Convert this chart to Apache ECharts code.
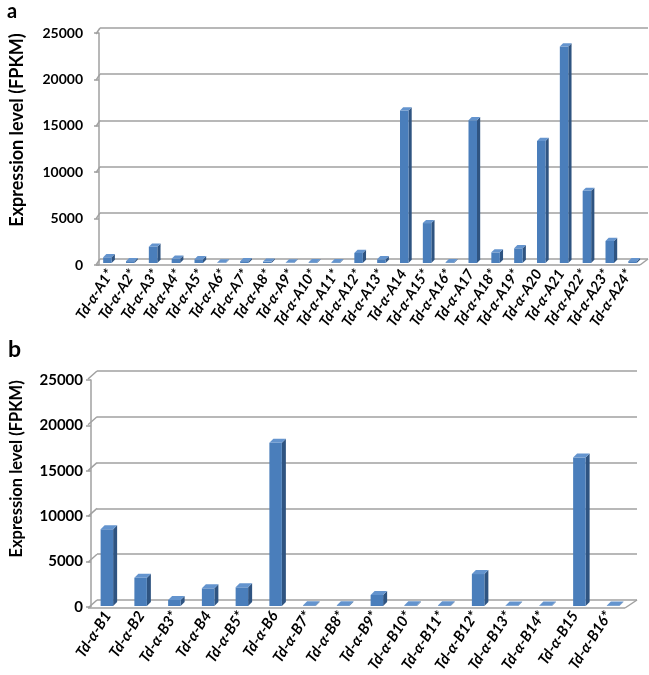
<!DOCTYPE html>
<html>
<head>
<meta charset="utf-8">
<script src="https://cdn.jsdelivr.net/npm/echarts@6/dist/echarts.min.js"></script>
<style>
html,body{margin:0;padding:0;background:#fff;}
#chart{width:649px;height:675px;}
</style>
</head>
<body>
<div id="chart"></div>
<script>
// ---- data ----
const catsA = ['Td-α-A1*','Td-α-A2*','Td-α-A3*','Td-α-A4*','Td-α-A5*','Td-α-A6*','Td-α-A7*','Td-α-A8*',
  'Td-α-A9*','Td-α-A10*','Td-α-A11*','Td-α-A12*','Td-α-A13*','Td-α-A14','Td-α-A15*','Td-α-A16*',
  'Td-α-A17','Td-α-A18*','Td-α-A19*','Td-α-A20','Td-α-A21','Td-α-A22*','Td-α-A23*','Td-α-A24*'];
const valsA = [620, 200, 1760, 460, 400, 50, 200, 150, 50, 80, 80, 1080, 400, 16500, 4320, 80,
  15450, 1150, 1590, 13200, 23440, 7810, 2380, 200];
const catsB = ['Td-α-B1','Td-α-B2','Td-α-B3*','Td-α-B4','Td-α-B5*','Td-α-B6','Td-α-B7*','Td-α-B8*',
  'Td-α-B9*','Td-α-B10*','Td-α-B11*','Td-α-B12*','Td-α-B13*','Td-α-B14*','Td-α-B15','Td-α-B16*'];
const valsB = [8375, 3090, 655, 1930, 2040, 17830, 80, 80, 1200, 80, 80, 3490, 50, 50, 16200, 60];
const yTicks = [0, 5000, 10000, 15000, 20000, 25000];
const yName = 'Expression level (FPKM)';

// ---- rendering ----
const GRID_COLOR = '#A0A0A0';
const FRONT = '#4A7EBB', SIDE = '#2F5481', TOPC = '#6494CE';

function barRenderer(o) {
  return function (params, api) {
    const i = api.value(0), v = api.value(1);
    const t = api.coord([i, v]), b = api.coord([i, 0]);
    const cx = t[0] + o.dx, yT = t[1] + o.dy, yB = b[1] + o.dy;
    const x0 = cx - o.w / 2, x1 = cx + o.w / 2, d = o.d;
    return {
      type: 'group',
      children: [
        {type: 'polygon', shape: {points: [[x1, yT], [x1 + d, yT - d], [x1 + d, yB - d], [x1, yB]]}, style: {fill: SIDE}},
        {type: 'rect', shape: {x: x0, y: yT, width: o.w, height: Math.max(yB - yT, 0)}, style: {fill: FRONT}},
        {type: 'polygon', shape: {points: [[x0, yT], [x1, yT], [x1 + d, yT - d], [x0 + d, yT - d]]}, style: {fill: TOPC}}
      ]
    };
  };
}

function frameRenderer(o) {
  return function (params, api) {
    const v = api.value(1);
    const cs = params.coordSys;
    const y = api.coord([0, v])[1];
    const st = {stroke: GRID_COLOR, lineWidth: 1.5};
    const ch = [{type: 'line', shape: {x1: cs.x, y1: y, x2: cs.x + o.lx, y2: y + o.fy}, style: st}];
    if (v === 0) {
      const rx = cs.x + cs.width;
      ch.push({type: 'line', shape: {x1: cs.x + o.lx, y1: y + o.fy, x2: rx + o.rx, y2: y + o.fy}, style: st});
      ch.push({type: 'line', shape: {x1: rx, y1: y, x2: rx + o.rx, y2: y + o.fy}, style: st});
    }
    return {type: 'group', children: ch};
  };
}

const labelFont = 'Lato, "Open Sans", sans-serif';

function backY(gi) {
  return {gridIndex: gi, type: 'value', min: 0, max: 25000, interval: 5000,
    axisLabel: {show: false}, axisLine: {show: false}, axisTick: {show: false},
    splitLine: {show: true, lineStyle: {color: GRID_COLOR, width: 1.5}}};
}
function frontY(gi, fs, margin, nameGap, nameFs, namePad) {
  return {gridIndex: gi, type: 'value', min: 0, max: 25000, interval: 5000,
    name: yName, nameLocation: 'middle', nameRotate: 90, nameGap: nameGap,
    nameTextStyle: {fontFamily: labelFont, fontWeight: 'bold', fontSize: nameFs, color: '#000', padding: namePad},
    axisLabel: {fontFamily: labelFont, fontWeight: 'bold', fontSize: fs, color: '#000', margin: margin,
      formatter: v => String(v)},
    axisLine: {show: true, lineStyle: {color: GRID_COLOR, width: 1.5}},
    axisTick: {show: true, length: 5, lineStyle: {color: GRID_COLOR, width: 1.5}},
    splitLine: {show: false}};
}
function backX(gi, cats) {
  return {gridIndex: gi, type: 'category', data: cats, show: false};
}
function frontX(gi, cats, fs) {
  return {gridIndex: gi, type: 'category', data: cats,
    axisLine: {show: false}, axisTick: {show: false},
    axisLabel: {interval: 0, rotate: 57, margin: 6, fontFamily: labelFont, fontWeight: 'bold',
      fontStyle: 'italic', fontSize: fs, color: '#000'}};
}

const chart = echarts.init(document.getElementById('chart'), null, {renderer: 'canvas'});
chart.setOption({
  backgroundColor: '#fff',
  animation: false,
  title: [
    {text: 'a', left: 2, top: -3, textStyle: {fontFamily: labelFont, fontWeight: 'bold', fontSize: 20, color: '#000'}},
    {text: 'b', left: 3, top: 333, textStyle: {fontFamily: labelFont, fontWeight: 'bold', fontSize: 23, color: '#000'}}
  ],
  grid: [
    {left: 100, top: 28, width: 548, height: 231},
    {left: 96, top: 33, width: 544, height: 232},
    {left: 97, top: 371, width: 540, height: 229},
    {left: 88, top: 380, width: 537, height: 227}
  ],
  xAxis: [backX(0, catsA), frontX(1, catsA, 14.5), backX(2, catsB), frontX(3, catsB, 15)],
  yAxis: [backY(0), frontY(1, 14, 16, 73, 18, [0, 0, 0, 38]), backY(2), frontY(3, 15, 8, 66, 16.5, [0, 0, 0, 49])],
  series: [
    {type: 'custom', xAxisIndex: 0, yAxisIndex: 0, renderItem: frameRenderer({lx: -4, fy: 6, rx: -8}),
      data: yTicks.map(v => [0, v]), silent: true, z: 1},
    {type: 'custom', xAxisIndex: 0, yAxisIndex: 0, renderItem: barRenderer({dx: -4, dy: 4, w: 8.5, d: 3.2}),
      data: valsA.map((v, i) => [i, v]), z: 3},
    {type: 'custom', xAxisIndex: 2, yAxisIndex: 2, renderItem: frameRenderer({lx: -9, fy: 8, rx: -12}),
      data: yTicks.map(v => [0, v]), silent: true, z: 1},
    {type: 'custom', xAxisIndex: 2, yAxisIndex: 2, renderItem: barRenderer({dx: -7, dy: 6, w: 12.5, d: 4}),
      data: valsB.map((v, i) => [i, v]), z: 3}
  ]
});
</script>
</body>
</html>
